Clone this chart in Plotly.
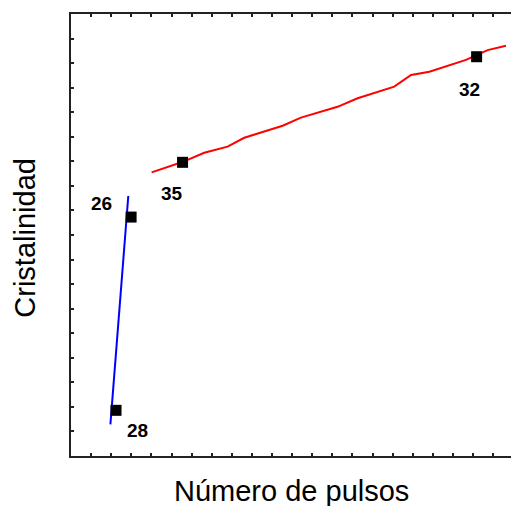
import plotly.graph_objects as go

# Data (axis units)
red_x = [4.01, 5.54, 6.63, 7.79, 8.62, 9.45, 10.53, 11.44, 12.52, 13.26, 14.26, 16.08, 16.92, 17.83, 19.65, 20.73, 21.64]
red_y = [11.55, 11.97, 12.35, 12.60, 12.96, 13.17, 13.45, 13.78, 14.06, 14.22, 14.57, 15.04, 15.52, 15.65, 16.13, 16.53, 16.71]
blue_x = [1.96, 2.85]
blue_y = [1.29, 10.59]
pt_x = [20.18, 5.55, 2.99, 2.24]
pt_y = [16.26, 11.96, 9.73, 1.86]
lab_text = ["32", "35", "26", "28"]
lab_x = [19.85, 5.02, 1.54, 3.31]
lab_y = [14.93, 10.70, 10.29, 1.03]

fig = go.Figure()
fig.add_trace(go.Scatter(x=red_x, y=red_y, mode="lines",
                         line=dict(color="#ff0000", width=2), hoverinfo="skip"))
fig.add_trace(go.Scatter(x=blue_x, y=blue_y, mode="lines",
                         line=dict(color="#0000ff", width=2), hoverinfo="skip"))
fig.add_trace(go.Scatter(x=pt_x, y=pt_y, mode="markers",
                         marker=dict(symbol="square", size=11, color="black")))

for t, x, y in zip(lab_text, lab_x, lab_y):
    fig.add_annotation(x=x, y=y, text=t, showarrow=False,
                       font=dict(family="Liberation Sans, Arial", size=19, color="black", weight="bold"),
                       xanchor="center", yanchor="middle")

fig.add_annotation(xref="paper", yref="paper", x=0.5, y=-0.079, text="Número de pulsos",
                   showarrow=False, xanchor="center", yanchor="middle",
                   font=dict(family="Liberation Sans, Arial", size=29, color="black"))
fig.add_annotation(xref="paper", yref="paper", x=-0.1045, y=0.494, text="Cristalinidad",
                   showarrow=False, xanchor="center", yanchor="middle", textangle=-90,
                   font=dict(family="Liberation Sans, Arial", size=29, color="black"))

fig.update_xaxes(range=[0, 440 / 20.1], dtick=1, tick0=0, showticklabels=False,
                 ticks="inside", ticklen=3, tickwidth=2, tickcolor="#222",
                 showline=True, linecolor="#222", linewidth=2, mirror="ticks",
                 showgrid=False, zeroline=False)
fig.update_yaxes(range=[0, 18], dtick=1, tick0=0, showticklabels=False,
                 ticks="inside", ticklen=3, tickwidth=2, tickcolor="#222",
                 showline=True, linecolor="#222", linewidth=2, mirror=False,
                 showgrid=False, zeroline=False)

fig.update_layout(width=511, height=506, showlegend=False,
                  margin=dict(l=71, r=0, t=14, b=50),
                  plot_bgcolor="white", paper_bgcolor="white")

fig.write_html("out.html", config={"displayModeBar": False},
               post_script="document.body.style.margin='0';document.body.style.overflow='hidden';")
